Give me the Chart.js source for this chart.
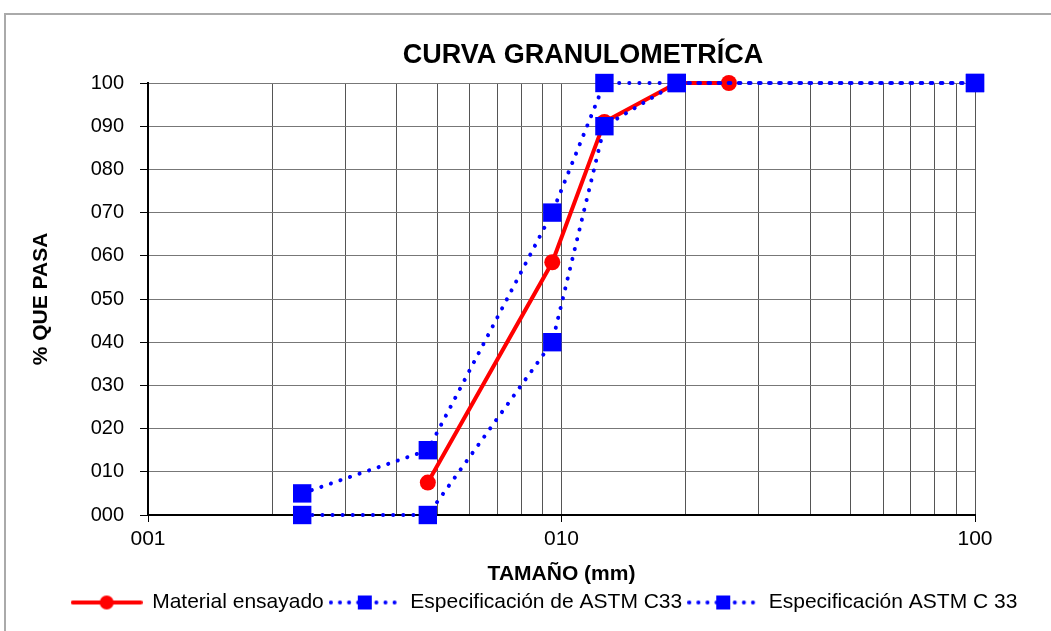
<!DOCTYPE html>
<html>
<head>
<meta charset="utf-8">
<script src="https://cdn.jsdelivr.net/npm/chart.js@4"></script>
<style>
  body { margin: 0; background: #fff; }
  #wrap { position: relative; width: 1051px; height: 631px; }
  #frame { position: absolute; left: 4px; top: 13px; right: -2px; bottom: -2px; border-left: 2px solid #aaa; border-top: 2px solid #aaa; }
  canvas { position: absolute; left: 0; top: 0; }
</style>
</head>
<body>
<div id="wrap">
  <div id="frame"></div>
  <canvas id="chart" width="1051" height="631"></canvas>
</div>
<script>
// Curva granulometrica
const materialSize = [4.75, 9.5, 12.7, 19.0, 25.4];
const materialPass = [7.5, 58.5, 91, 100, 100];
const specSize = [2.36, 4.75, 9.5, 12.7, 19.0, 100];
const specUpper = [5, 15, 70, 100, 100, 100];
const specLower = [0, 0, 40, 90, 100, 100];
const xTicks = [1, 2, 3, 4, 5, 6, 7, 8, 9, 10, 20, 30, 40, 50, 60, 70, 80, 90, 100];
const xLabelTicks = [1, 10, 100];
const yTicks = [0, 10, 20, 30, 40, 50, 60, 70, 80, 90, 100];

const FONT = '"Liberation Sans", Arial, sans-serif';
const toPoints = (xs, ys) => xs.map((x, i) => ({ x: x, y: ys[i] }));

// legend icons: line + marker
function makeIcon(color, dotted, marker) {
    const c = document.createElement('canvas');
    c.width = 72;
    c.height = 20;
    const g = c.getContext('2d');
    g.strokeStyle = color;
    g.fillStyle = color;
    g.lineCap = 'round';
    g.lineWidth = 4;
    if (dotted) g.setLineDash([0.1, 9]);
    g.beginPath();
    g.moveTo(2, 10);
    g.lineTo(70, 10);
    g.stroke();
    g.setLineDash([]);
    if (marker === 'circle') {
        g.beginPath();
        g.arc(36, 10, 7, 0, Math.PI * 2);
        g.fill();
    } else {
        g.fillRect(29, 3, 14, 14);
    }
    return c;
}
const icons = [
    makeIcon('#ff0000', false, 'circle'),
    makeIcon('#0000ff', true, 'rect'),
    makeIcon('#0000ff', true, 'rect')
];

const titlePlugin = {
    id: 'topTitle',
    afterLayout(chart) {
        // legend sits right of centre in the original
        chart.legend.left += 57;
        chart.legend.right += 57;
    },
    afterDraw(chart) {
        const g = chart.ctx;
        g.save();
        g.font = 'bold 27px ' + FONT;
        g.fillStyle = '#000';
        g.textAlign = 'center';
        g.textBaseline = 'middle';
        g.fillText('CURVA GRANULOMETRÍCA', 583, 56);
        g.restore();
    }
};

const ctx = document.getElementById('chart').getContext('2d');

const chart = new Chart(ctx, {
    type: 'line',
    data: {
        datasets: [{
            label: 'Material ensayado',
            data: toPoints(materialSize, materialPass),
            borderColor: '#ff0000',
            backgroundColor: '#ff0000',
            borderWidth: 4,
            pointStyle: 'circle',
            pointRadius: 8,
            pointBorderWidth: 0,
            order: 3,
            clip: false
        },
        {
            label: 'Especificación de ASTM C33',
            data: toPoints(specSize, specUpper),
            borderColor: '#0000ff',
            backgroundColor: '#0000ff',
            borderWidth: 4,
            borderDash: [0.1, 10],
            borderCapStyle: 'round',
            pointStyle: 'rect',
            pointRadius: 13,
            pointBorderWidth: 0,
            order: 2,
            clip: false
        },
        {
            label: 'Especificación ASTM C 33',
            data: toPoints(specSize, specLower),
            borderColor: '#0000ff',
            backgroundColor: '#0000ff',
            borderWidth: 4,
            borderDash: [0.1, 10],
            borderCapStyle: 'round',
            pointStyle: 'rect',
            pointRadius: 13,
            pointBorderWidth: 0,
            order: 1,
            clip: false
        }]
    },
    plugins: [titlePlugin],
    options: {
        responsive: false,
        animation: false,
        layout: {
            padding: { left: 0, right: 76, top: 83, bottom: 8 }
        },
        plugins: {
            title: { display: false },
            tooltip: { enabled: false },
            legend: {
                position: 'bottom',
                labels: {
                    usePointStyle: true,
                    pointStyleWidth: 70,
                    padding: 6,
                    color: '#000',
                    font: { family: FONT, size: 21 },
                    sort: (a, b) => a.datasetIndex - b.datasetIndex,
                    generateLabels(chart) {
                        const items = Chart.defaults.plugins.legend.labels.generateLabels(chart);
                        items.forEach(it => { it.pointStyle = icons[it.datasetIndex]; });
                        return items;
                    }
                }
            }
        },
        scales: {
            x: {
                type: 'logarithmic',
                min: 1,
                max: 100,
                afterBuildTicks: (s) => { s.ticks = xTicks.map(v => ({ value: v })); },
                afterFit: (s) => { s.height = 71; },
                ticks: {
                    autoSkip: false,
                    maxRotation: 0,
                    padding: 5,
                    color: '#000',
                    font: { family: FONT, size: 21 },
                    callback: (v) => xLabelTicks.includes(v) ? String(v).padStart(3, '0') : ''
                },
                grid: {
                    color: '#555',
                    lineWidth: 1,
                    tickLength: 7,
                    tickColor: (c) => (c.tick && xLabelTicks.includes(c.tick.value)) ? '#000' : 'rgba(0,0,0,0)'
                },
                border: { color: '#000', width: 2 },
                title: {
                    display: true,
                    text: 'TAMAÑO (mm)',
                    color: '#000',
                    padding: { top: 0, bottom: 1 },
                    font: { family: FONT, size: 21, weight: 'bold', lineHeight: 1 }
                }
            },
            y: {
                min: 0,
                max: 100,
                afterBuildTicks: (s) => { s.ticks = yTicks.map(v => ({ value: v })); },
                afterFit: (s) => { s.width = 148; },
                ticks: {
                    padding: 16,
                    color: '#000',
                    font: { family: FONT, size: 20 },
                    callback: (v) => String(v).padStart(3, '0')
                },
                grid: {
                    color: '#777',
                    lineWidth: 1,
                    tickLength: 8,
                    tickColor: '#000'
                },
                border: { color: '#000', width: 2 },
                title: {
                    display: true,
                    text: '% QUE PASA',
                    color: '#000',
                    padding: { top: 31, bottom: 0 },
                    font: { family: FONT, size: 21, weight: 'bold', lineHeight: 1 }
                }
            }
        }
    }
});
</script>
</body>
</html>
